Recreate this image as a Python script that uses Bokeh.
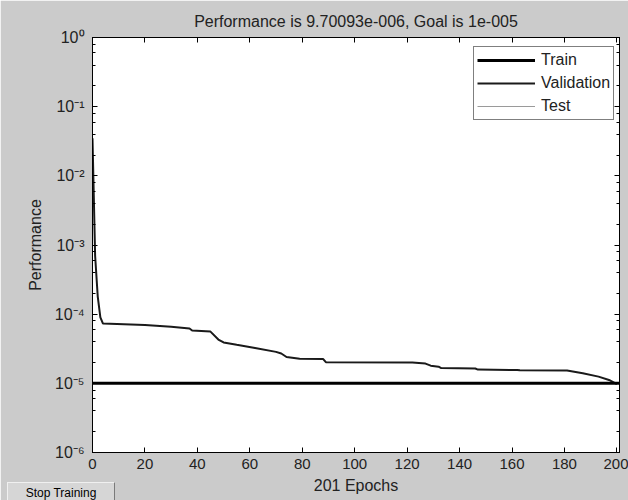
from bokeh.plotting import figure
from bokeh.models import (LogAxis, LinearAxis, LogTicker, Legend, LegendItem,
                          CustomJSTickFormatter, ColumnDataSource, Button, InlineStyleSheet)
from bokeh.layouts import column
from bokeh.embed import file_html
from bokeh.resources import INLINE

# ---- data ----
epochs = [0, 1, 2, 3, 4, 20, 30, 37, 38, 45, 48, 50, 55, 62, 70, 72, 74, 79, 88, 89,
          122, 127, 129, 132, 133, 146, 147, 162, 163, 181, 187, 193, 197, 200]
perf = [3.5e-2, 7.0e-4, 1.8e-4, 9.0e-5, 7.3e-5, 7.0e-5, 6.6e-5, 6.2e-5, 5.8e-5, 5.6e-5,
        4.3e-5, 3.9e-5, 3.6e-5, 3.25e-5, 2.85e-5, 2.7e-5, 2.4e-5, 2.26e-5, 2.24e-5, 2.02e-5,
        2.0e-5, 1.93e-5, 1.8e-5, 1.74e-5, 1.66e-5, 1.64e-5, 1.58e-5, 1.56e-5, 1.54e-5,
        1.53e-5, 1.4e-5, 1.25e-5, 1.12e-5, 9.70093e-6]
goal = 1e-5
goal_x = [0, 201]
goal_y = [goal, goal]
title = "Performance is 9.70093e-006, Goal is 1e-005"
legend_labels = ["Train", "Validation", "Test"]
x_ticks = list(range(0, 201, 20))
button_label = "Stop Training"

FONT = "Liberation Sans"
TXT = "#222222"

p = figure(width=628, height=500, y_axis_type="log", x_range=(0, 201), y_range=(1e-6, 1),
           output_backend="svg", toolbar_location=None,
           min_border_left=92, min_border_right=9, min_border_top=37, min_border_bottom=48)
p.border_fill_color = "#cbcbcb"
p.background_fill_color = "white"
p.outline_line_color = "black"
p.grid.visible = False

p.title.text = title
p.title.align = "center"
p.title.text_font = FONT
p.title.text_font_size = "16px"
p.title.text_font_style = "normal"
p.title.text_color = TXT
p.title.standoff = 15

sup = CustomJSTickFormatter(code="""
const m = {'0':'\u2070','1':'\u00b9','2':'\u00b2','3':'\u00b3','4':'\u2074','5':'\u2075',
           '6':'\u2076','7':'\u2077','8':'\u2078','9':'\u2079','-':'\u207b'};
const e = Math.round(Math.log10(tick));
return '10' + String(e).split('').map(c => m[c]).join('');
""")

xa = p.xaxis[0]
xa.ticker = x_ticks
xa.axis_label = "201 Epochs"
ya = p.yaxis[0]
ya.ticker = LogTicker()
ya.formatter = sup
ya.axis_label = "Performance"
for ax in (xa, ya):
    ax.major_tick_in = 5
    ax.major_tick_out = 0
    ax.minor_tick_in = 3
    ax.minor_tick_out = 0
    ax.major_label_text_font = FONT
    ax.major_label_text_font_size = "15px"
    ax.major_label_text_color = TXT
    ax.axis_label_text_font = FONT
    ax.axis_label_text_font_size = "16px"
    ax.axis_label_text_font_style = "normal"
    ax.axis_label_text_color = TXT
    ax.axis_line_color = "black"
    ax.major_tick_line_color = "black"
ya.major_label_text_font_size = "16px"
xa.minor_tick_line_color = None
xa.major_label_standoff = 6
xa.axis_label_standoff = 5
ya.major_label_standoff = 8
ya.axis_label_standoff = 8

blank = CustomJSTickFormatter(code="return '';")
top = LinearAxis(ticker=x_ticks, major_tick_in=5, major_tick_out=0, minor_tick_line_color=None,
                 formatter=blank, axis_line_color="black")
p.add_layout(top, "above")
right = LogAxis(ticker=LogTicker(), major_tick_in=5, major_tick_out=0, minor_tick_in=3,
                minor_tick_out=0, formatter=blank, axis_line_color="black")
p.add_layout(right, "right")

src = ColumnDataSource(dict(x=epochs, y=perf))
r_curve = p.line("x", "y", source=src, line_color="#1a1a1a", line_width=2)
r_goal = p.line(goal_x, goal_y, line_color="black", line_width=3)
r_test = p.line(goal_x, goal_y, line_color="#9a9a9a", line_width=1, visible=False)

leg = Legend(items=[LegendItem(label=legend_labels[0], renderers=[r_goal]),
                    LegendItem(label=legend_labels[1], renderers=[r_curve]),
                    LegendItem(label=legend_labels[2], renderers=[r_test])],
             location=(381, 332), padding=3, spacing=3, label_height=20, glyph_height=20,
             glyph_width=58, label_standoff=6, margin=0,
             border_line_color="black", border_line_width=1,
             label_text_font=FONT, label_text_font_size="16px", label_text_color=TXT,
             background_fill_alpha=1, inactive_fill_alpha=0)
p.add_layout(leg, "center")

css = InlineStyleSheet(css="""
.bk-btn { background-color: #d6d6d6; border: 1px solid #7a7a7a; border-top-color: #f0f0f0;
          border-left-color: #f0f0f0; border-radius: 0; font-family: 'Liberation Sans';
          font-size: 12px; color: #000; padding: 2px 4px; box-shadow: none; }
""")
btn = Button(label=button_label, width=108, height=22, margin=(-18, 0, 0, 7), stylesheets=[css])

layout = column(p, btn, spacing=0)
open("out.html", "w").write(file_html(layout, INLINE))
